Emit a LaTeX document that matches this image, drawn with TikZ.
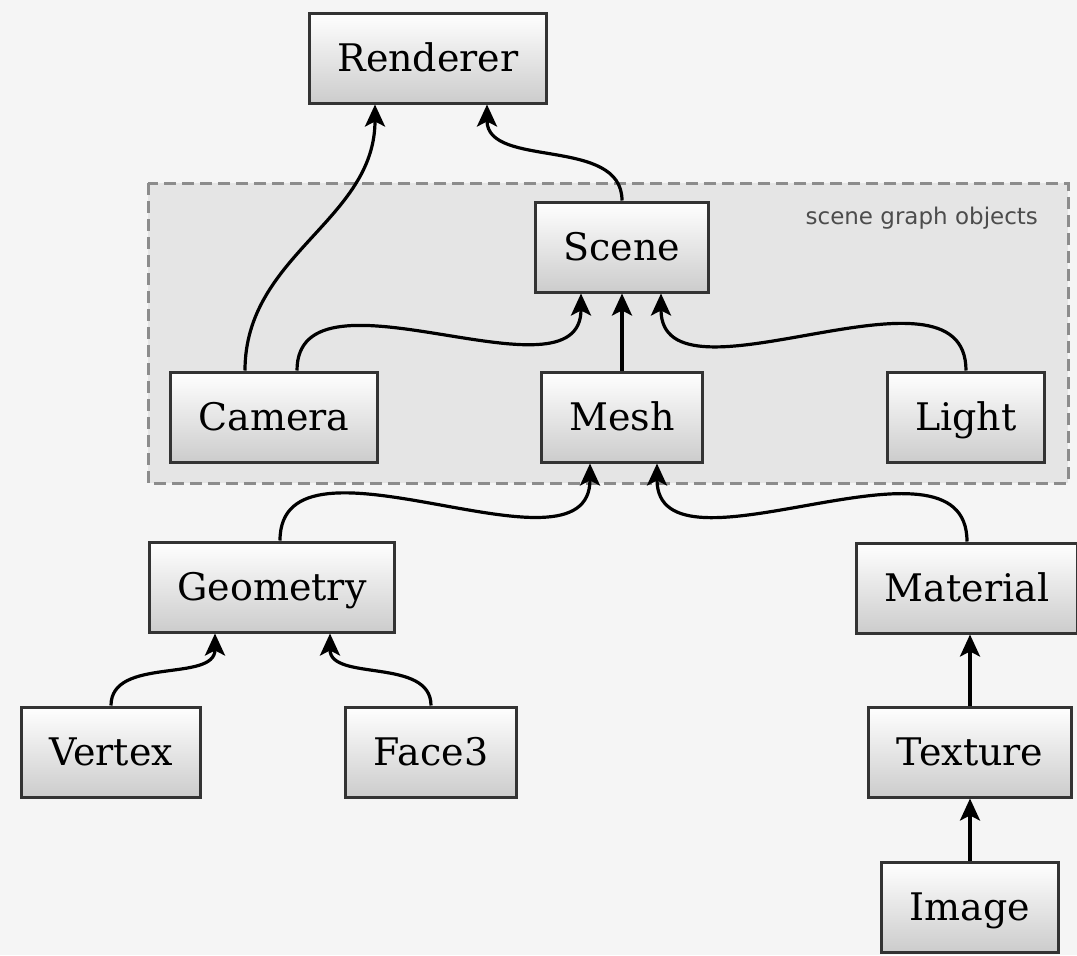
\documentclass[tikz,border=0pt]{standalone}
\usepackage{fontspec}
\setmainfont{DejaVu Serif}
\setsansfont{DejaVu Sans}
\usetikzlibrary{shapes,arrows,arrows.meta,positioning}

\tikzset{
  objbox/.style={draw=black!80, line width=1.5pt, top color=white, bottom color=gray!40,
    minimum height=45pt, inner xsep=14pt, text height=16pt, text depth=3pt,
    font=\fontsize{19}{22}\selectfont},
  link/.style={line width=1.6pt, -{Stealth[length=11pt,width=10pt,inset=2.5pt]}},
}

\begin{document}
\begin{tikzpicture}[x=0.5pt,y=-0.5pt]
  % page background
  \useasboundingbox[fill=gray!8] (0,0) rectangle (1077,955);

  % scene graph group
  \draw[draw=black!45, fill=gray!20, line width=1.5pt, dash pattern=on 6pt off 3pt] (148,183) rectangle (1068,483);
  \node[anchor=east, font=\sffamily\fontsize{11.5}{13}\selectfont, text=black!70] (grouplabel) at (1045,218) {scene graph objects};

  % objects
  \node[objbox] (renderer) at (428,58) {Renderer};
  \node[objbox] (scene) at (622,247) {Scene};
  \node[objbox] (camera) at (274,417) {Camera};
  \node[objbox] (mesh) at (622,417) {Mesh};
  \node[objbox] (light) at (966,417) {Light};
  \node[objbox] (geometry) at (272,587) {Geometry};
  \node[objbox] (material) at (967,588) {Material};
  \node[objbox] (vertex) at (111,752) {Vertex};
  \node[objbox] (face) at (431,752) {Face3};
  \node[objbox] (texture) at (970,752) {Texture};
  \node[objbox] (image) at (970,907) {Image};

  % links to the renderer
  \draw[link] ([xshift=-14.5pt]camera.north) to[out=90,in=-90] ([xshift=-26.5pt]renderer.south);
  \draw[link] (scene.north) to[out=90,in=-90] ([xshift=29.5pt]renderer.south);

  % links inside the scene graph
  \draw[link] ([xshift=11.5pt]camera.north) to[out=90,in=-90] ([xshift=-20.5pt]scene.south);
  \draw[link] (mesh.north) -- (scene.south);
  \draw[link] (light.north) to[out=90,in=-90] ([xshift=19.5pt]scene.south);

  % mesh parts
  \draw[link] ([xshift=4pt]geometry.north) to[out=90,in=-90] ([xshift=-16pt]mesh.south);
  \draw[link] (material.north) to[out=90,in=-90] ([xshift=17.5pt]mesh.south);
  \draw[link] (vertex.north) to[out=90,in=-90] ([xshift=-28.5pt]geometry.south);
  \draw[link] (face.north) to[out=90,in=-90] ([xshift=29pt]geometry.south);
  \draw[link] (texture.north) -- (material.south -| texture.north);
  \draw[link] (image.north) -- (texture.south);
\end{tikzpicture}
\end{document}
